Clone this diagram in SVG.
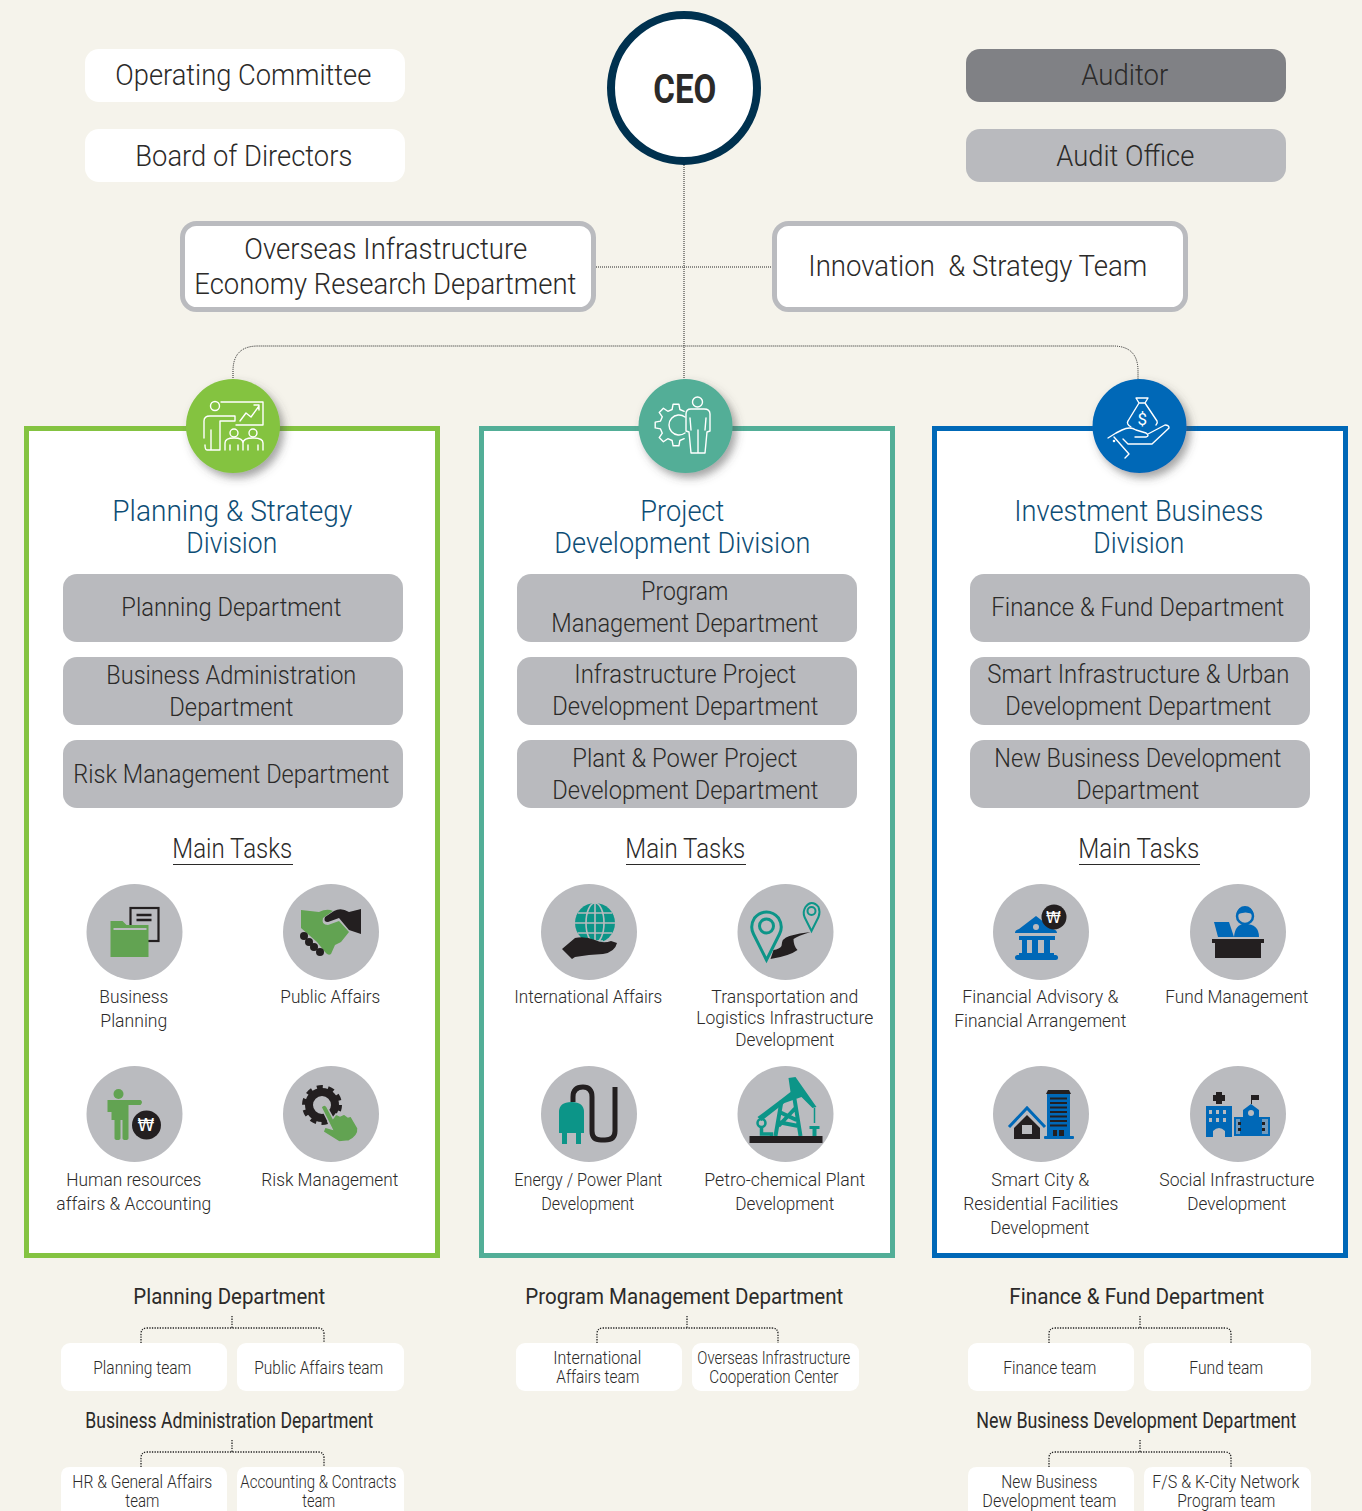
<svg xmlns="http://www.w3.org/2000/svg" width="1362" height="1511" viewBox="0 0 1362 1511">
<style>
text{font-family:Roboto,"Liberation Sans",sans-serif;font-weight:300;fill:#2b2a29;transform:translate(-.7px,0)}
.t30{font-size:30px}.t26{font-size:26px}.t28{font-size:28px}.t19{font-size:19px}.t22{font-size:22px;font-weight:400}.t18{font-size:18px}
.title{font-size:30px;fill:#0d4d75}
.w{fill:#fff}.dept{fill:#b9babe}
.outl{fill:#fff;stroke:#babbbf;stroke-width:5}
.conn{fill:none;stroke:#222;stroke-width:1;stroke-dasharray:1 1}
.tree{fill:none;stroke:#222;stroke-width:1.300;stroke-dasharray:1.300 1.300}
.frame{fill:#fff;stroke-width:5}
.disc{fill:#babbbf}
.ic{fill:none;stroke:#fff;stroke-width:1.400;stroke-linejoin:round;stroke-linecap:round}
.g{fill:#62a352}.k{fill:#231f20}.tl{fill:#0c9588}.b{fill:#0068b7}
.ul{stroke:#2b2a29;stroke-width:1}
.won{font-family:"DejaVu Sans",sans-serif;font-weight:400;font-size:17px;fill:#fff}
</style>
<defs><filter id="sh" x="-30%" y="-30%" width="170%" height="170%"><feDropShadow dx="4" dy="5" stdDeviation="4" flood-color="#4a4a4a" flood-opacity=".5"/></filter></defs>
<rect width="1362" height="1511" fill="#f5f3eb"/>

<g id="connectors">
<path class="conn" d="M684 165V380M596 267H773M233 380V371Q233 346 258 346H1113Q1138 346 1138 371V380"/>
<path class="tree" d="M232 1316V1328M141 1343V1334Q141 1328 147 1328H318Q324 1328 324 1334V1343"/>
<path class="tree" d="M232 1440V1452M141 1467V1458Q141 1452 147 1452H318Q324 1452 324 1458V1467"/>
<path class="tree" d="M687 1316V1328M597 1343V1334Q597 1328 603 1328H772Q778 1328 778 1334V1343"/>
<path class="tree" d="M1140 1316V1328M1049 1343V1334Q1049 1328 1055 1328H1225Q1231 1328 1231 1334V1343"/>
<path class="tree" d="M1140 1440V1452M1049 1467V1458Q1049 1452 1055 1452H1225Q1231 1452 1231 1458V1467"/>
</g>

<g id="ceo"><circle cx="684" cy="88" r="73" fill="#fff" stroke="#00314f" stroke-width="8"/><text x="654" y="103" style="font-weight:700;font-size:40px" textLength="63" lengthAdjust="spacingAndGlyphs">CEO</text></g>
<g id="operating-committee"><rect class="w" x="85" y="49" width="320" height="53" rx="14"/><text class="t30" x="116" y="85" textLength="256" lengthAdjust="spacingAndGlyphs">Operating Committee</text></g>
<g id="board"><rect class="w" x="85" y="129" width="320" height="53" rx="14"/><text class="t30" x="136" y="166" textLength="217" lengthAdjust="spacingAndGlyphs">Board of Directors</text></g>
<g id="auditor"><rect x="966" y="49" width="320" height="53" rx="14" fill="#808185"/><text class="t30" x="1082" y="85" textLength="87" lengthAdjust="spacingAndGlyphs">Auditor</text></g>
<g id="audit-office"><rect class="dept" x="966" y="129" width="320" height="53" rx="14"/><text class="t30" x="1057" y="166" textLength="138" lengthAdjust="spacingAndGlyphs">Audit Office</text></g>
<g id="overseas"><rect class="outl" x="182.500" y="223.500" width="411" height="86" rx="14"/><text class="t30" x="245" y="259" textLength="283" lengthAdjust="spacingAndGlyphs">Overseas Infrastructure</text><text class="t30" x="195" y="294" textLength="382" lengthAdjust="spacingAndGlyphs">Economy Research Department</text></g>
<g id="innovation"><rect class="outl" x="774.500" y="223.500" width="411" height="86" rx="14"/><text class="t30" x="809" y="276" textLength="339" lengthAdjust="spacingAndGlyphs" xml:space="preserve">Innovation  &amp; Strategy Team</text></g>

<g id="planning-division">
<rect class="frame" stroke="#84c341" x="26.500" y="428.500" width="411" height="827"/>
<circle cx="233" cy="426" r="47" fill="#84c341" filter="url(#sh)"/>
<g class="ic"><path d="M221 402H263V425H236"/><circle cx="215" cy="406" r="4.500"/><path d="M204 438V421Q204 416 210 416H235V421H220V450H211V430M211 450H207Q205 450 205 445M240 421L246 413L251 417L259 406M254 405H259V410"/><circle cx="234" cy="433" r="4"/><circle cx="253" cy="433" r="4"/><path d="M225 450V443Q225 438 234 438Q243 438 243 443V450M243 443Q243 438 253 438Q263 438 263 443V450M230 450V445M238 450V445M248 450V445M258 450V445"/></g>
<text class="title" x="113" y="521" textLength="240" lengthAdjust="spacingAndGlyphs">Planning &amp; Strategy</text>
<text class="title" x="187" y="553" textLength="91" lengthAdjust="spacingAndGlyphs">Division</text>
</g>
<g id="dept-planning"><rect class="dept" x="63" y="574" width="340" height="68" rx="14"/><text class="t26" x="122" y="616" textLength="220" lengthAdjust="spacingAndGlyphs">Planning Department</text></g>
<g id="dept-bizadmin"><rect class="dept" x="63" y="657" width="340" height="68" rx="14"/><text class="t26" x="107" y="684" textLength="250" lengthAdjust="spacingAndGlyphs">Business Administration</text><text class="t26" x="170" y="716" textLength="124" lengthAdjust="spacingAndGlyphs">Department</text></g>
<g id="dept-risk"><rect class="dept" x="63" y="740" width="340" height="68" rx="14"/><text class="t26" x="74" y="783" textLength="316" lengthAdjust="spacingAndGlyphs">Risk Management Department</text></g>
<g id="tasks-planning"><text class="t28" x="173" y="858" textLength="120" lengthAdjust="spacingAndGlyphs">Main Tasks</text><line class="ul" x1="173" x2="293" y1="864.500" y2="864.500"/></g>

<g id="task-business-planning" transform="translate(134.500 932)"><circle class="disc" r="48"/><rect x="-4" y="-24" width="28" height="33" fill="none" stroke="#231f20" stroke-width="2.200"/><path d="M2 -17H17M2 -12H17" stroke="#231f20" stroke-width="2.400"/><path class="g" d="M-24 -11H-12L-8 -7H14V25H-24Z"/><path d="M-21 -3H12" stroke="#babbbf" stroke-width="2"/></g>
<text class="t19" x="100" y="1003" textLength="69" lengthAdjust="spacingAndGlyphs">Business</text><text class="t19" x="101" y="1027" textLength="67" lengthAdjust="spacingAndGlyphs">Planning</text>
<g id="task-public-affairs" transform="translate(331 932)"><circle class="disc" r="48"/><path class="g" d="M-30 -22L-12 -20Q-4 -24 2 -21L-8 -14Q-10 -7 -3 -7L8 -11L18 0L14 5L10 10L4 13L0 22Q-3 24 -6 20L-14 10L-30 -4Z"/><path class="k" d="M30 -23V2L18 -2L8 -14L-3 -10Q-8 -10 -6 -15L3 -21Q10 -25 18 -20Z"/><g class="k"><circle cx="-27" cy="4" r="4"/><circle cx="-22" cy="10" r="4"/><circle cx="-17" cy="15" r="4"/><circle cx="-11" cy="20" r="4"/></g></g>
<text class="t19" x="281" y="1003" textLength="100" lengthAdjust="spacingAndGlyphs">Public Affairs</text>
<g id="task-hr" transform="translate(134.500 1114)"><circle class="disc" r="48"/><circle class="g" cx="-16" cy="-20" r="5"/><path class="g" d="M-27 -14H-8L6 -14Q9 -12 6 -9H-6V24Q-6 26 -9 26T-12 24V6H-14V24Q-14 26 -17 26T-20 24V6H-23V-2H-27Z"/><circle class="k" cx="12" cy="11" r="14.500"/><text class="won" x="12" y="17" text-anchor="middle">₩</text></g>
<text class="t19" x="67" y="1186" textLength="135" lengthAdjust="spacingAndGlyphs">Human resources</text><text class="t19" x="57" y="1210" textLength="155" lengthAdjust="spacingAndGlyphs">affairs &amp; Accounting</text>
<g id="task-risk" transform="translate(331 1114)"><circle class="disc" r="48"/><circle cx="-9" cy="-9" r="13" fill="none" stroke="#231f20" stroke-width="8"/><circle cx="-9" cy="-9" r="18" fill="none" stroke="#231f20" stroke-width="4" stroke-dasharray="6 5.300"/><path class="g" stroke="#babbbf" stroke-width="1.500" d="M-10 -7Q-6 -11 -4 -7L2 4L5 0L9 2L13 0L17 3L20 2L27 14Q28 22 18 27L8 28L-8 18L-6 13L1 15Z"/></g>
<text class="t19" x="262" y="1186" textLength="137" lengthAdjust="spacingAndGlyphs">Risk Management</text>

<g id="project-division">
<rect class="frame" stroke="#52ae97" x="481.500" y="428.500" width="411" height="827"/>
<circle cx="685.500" cy="426" r="47" fill="#52ae97" filter="url(#sh)"/>
<g class="ic"><path d="M684.200 411.300L679.900 409.500 678.900 404.200 673.100 404.200 672.100 409.500 667.800 411.300 663.400 408.200 659.200 412.400 662.300 416.800 660.500 421.100 655.200 422.100 655.200 427.900 660.500 428.900 662.300 433.200 659.200 437.600 663.400 441.800 667.800 438.700 672.100 440.500 673.100 445.800 678.900 445.800 679.900 440.500 684.200 438.700"/><path d="M685 417A10 10 0 1 0 685 433"/><circle cx="697.500" cy="402" r="5"/><path style="fill:#52ae97" d="M691 409H704Q710 409 710 414V431L707 432L705 453H691L689 432L686 431V414Q686 409 691 409ZM698 430V453M690 418L691 430M706 418L705 430"/></g>
<text class="title" x="641" y="521" textLength="84" lengthAdjust="spacingAndGlyphs">Project</text>
<text class="title" x="555" y="553" textLength="256" lengthAdjust="spacingAndGlyphs">Development Division</text>
</g>
<g id="dept-program"><rect class="dept" x="517" y="574" width="340" height="68" rx="14"/><text class="t26" x="642" y="600" textLength="87" lengthAdjust="spacingAndGlyphs">Program</text><text class="t26" x="552" y="632" textLength="267" lengthAdjust="spacingAndGlyphs">Management Department</text></g>
<g id="dept-infra"><rect class="dept" x="517" y="657" width="340" height="68" rx="14"/><text class="t26" x="575" y="683" textLength="222" lengthAdjust="spacingAndGlyphs">Infrastructure Project</text><text class="t26" x="553" y="715" textLength="266" lengthAdjust="spacingAndGlyphs">Development Department</text></g>
<g id="dept-plant"><rect class="dept" x="517" y="740" width="340" height="68" rx="14"/><text class="t26" x="573" y="767" textLength="225" lengthAdjust="spacingAndGlyphs">Plant &amp; Power Project</text><text class="t26" x="553" y="799" textLength="266" lengthAdjust="spacingAndGlyphs">Development Department</text></g>
<g id="tasks-project"><text class="t28" x="626" y="858" textLength="120" lengthAdjust="spacingAndGlyphs">Main Tasks</text><line class="ul" x1="626" x2="746" y1="864.500" y2="864.500"/></g>

<g id="task-international" transform="translate(589 932)"><circle class="disc" r="48"/><circle class="tl" cx="6" cy="-9" r="20"/><g fill="none" stroke="#babbbf" stroke-width="1.600"><ellipse cx="6" cy="-9" rx="9" ry="20"/><path d="M6 -29V11M-14 -9H26M-11 -19H23M-11 1H23M-16 9H14"/></g><path class="k" d="M-27 17L-14 6Q-4 4 6 8Q14 12 22 9L28 11Q26 20 14 22L0 23L-14 25L-17 27Z"/></g>
<text class="t19" x="515" y="1003" textLength="148" lengthAdjust="spacingAndGlyphs">International Affairs</text>
<g id="task-transport" transform="translate(785.500 932)"><circle class="disc" r="48"/><path d="M-19 28L-32 2Q-36 -6 -31 -14Q-26 -20 -19 -20Q-12 -20 -7 -14Q-2 -6 -6 2Z" fill="none" stroke="#0c9588" stroke-width="3"/><circle cx="-19" cy="-6" r="7" fill="none" stroke="#0c9588" stroke-width="3"/><path d="M26 -1L19 -15Q17 -20 20 -25Q23 -29 26 -29Q30 -29 33 -25Q35 -20 33 -15Z" fill="none" stroke="#0c9588" stroke-width="2"/><circle cx="26" cy="-21" r="4" fill="none" stroke="#0c9588" stroke-width="2"/><path class="k" d="M-15 27L-12 18Q-6 17 -4 14Q-4 6 4 4Q14 1 25 0Q12 4 8 7Q8 14 12 18Q4 24 -15 27Z"/></g>
<text class="t19" x="712" y="1003" textLength="147" lengthAdjust="spacingAndGlyphs">Transportation and</text><text class="t19" x="697" y="1024" textLength="177" lengthAdjust="spacingAndGlyphs">Logistics Infrastructure</text><text class="t19" x="736" y="1046" textLength="99" lengthAdjust="spacingAndGlyphs">Development</text>
<g id="task-energy" transform="translate(589 1114)"><circle class="disc" r="48"/><path d="M-16 -12V-17Q-16 -27 -6 -27Q3 -27 3 -17V17Q3 26 12 26H16Q26 26 26 17V-27" fill="none" stroke="#231f20" stroke-width="5"/><path class="tl" d="M-30 19V-2Q-30 -12 -17.500 -12Q-5 -12 -5 -2V19H-8V30H-13V19H-22V30H-27V19Z"/></g>
<text class="t19" x="515" y="1186" textLength="148" lengthAdjust="spacingAndGlyphs">Energy / Power Plant</text><text class="t19" x="542" y="1210" textLength="93" lengthAdjust="spacingAndGlyphs">Development</text>
<g id="task-petro" transform="translate(785.500 1114)"><circle class="disc" r="48"/><path class="tl" d="M3 -36L10 -37L31 -7L27 -6L16 -17L-1 -11L-24 7L-28 3L-4 -15L5 -22Z"/><path d="M-4 -13L-10 22M9 -15L15 22M-8 8L13 12M-6 -2L11 6M-7 12L10 -6" fill="none" stroke="#0c9588" stroke-width="4"/><circle cx="-24" cy="9" r="4" fill="none" stroke="#0c9588" stroke-width="2.500"/><path d="M-24 13V20H-14V22" fill="none" stroke="#0c9588" stroke-width="3.500"/><path d="M29 -6V9" stroke="#0c9588" stroke-width="1.500"/><path class="tl" d="M24 12H34V15H31V22H27V15H24Z"/><rect class="k" x="-36" y="22" width="73" height="7"/></g>
<text class="t19" x="705" y="1186" textLength="161" lengthAdjust="spacingAndGlyphs">Petro-chemical Plant</text><text class="t19" x="736" y="1210" textLength="99" lengthAdjust="spacingAndGlyphs">Development</text>

<g id="investment-division">
<rect class="frame" stroke="#0068b7" x="934.500" y="428.500" width="411" height="827"/>
<circle cx="1139.500" cy="426" r="47" fill="#0068b7" filter="url(#sh)"/>
<g class="ic"><path d="M1136 398H1148L1145 403H1139ZM1139 403L1128 421Q1126 424 1131 427M1145 403L1157 421Q1158 423 1156 425"/><path d="M1108 438L1116 433L1122 430Q1130 426 1136 430L1146 433Q1150 436 1146 437H1135M1148 434L1165 425Q1169 425 1169 428L1152 444H1128L1123 439M1114 437L1129 454L1125 458"/><circle cx="1114" cy="441" r=".6"/></g>
<text x="1143" y="425" text-anchor="middle" style="font-size:17px;font-weight:400;fill:#fff">$</text>
<text class="title" x="1015" y="521" textLength="249" lengthAdjust="spacingAndGlyphs">Investment Business</text>
<text class="title" x="1094" y="553" textLength="91" lengthAdjust="spacingAndGlyphs">Division</text>
</g>
<g id="dept-finance"><rect class="dept" x="970" y="574" width="340" height="68" rx="14"/><text class="t26" x="992" y="616" textLength="293" lengthAdjust="spacingAndGlyphs">Finance &amp; Fund Department</text></g>
<g id="dept-smart"><rect class="dept" x="970" y="657" width="340" height="68" rx="14"/><text class="t26" x="988" y="683" textLength="302" lengthAdjust="spacingAndGlyphs">Smart Infrastructure &amp; Urban</text><text class="t26" x="1006" y="715" textLength="266" lengthAdjust="spacingAndGlyphs">Development Department</text></g>
<g id="dept-newbiz"><rect class="dept" x="970" y="740" width="340" height="68" rx="14"/><text class="t26" x="995" y="767" textLength="287" lengthAdjust="spacingAndGlyphs">New Business Development</text><text class="t26" x="1077" y="799" textLength="123" lengthAdjust="spacingAndGlyphs">Department</text></g>
<g id="tasks-investment"><text class="t28" x="1079" y="858" textLength="121" lengthAdjust="spacingAndGlyphs">Main Tasks</text><line class="ul" x1="1079" x2="1200" y1="864.500" y2="864.500"/></g>

<g id="task-financial" transform="translate(1041 932)"><circle class="disc" r="48"/><path class="b" d="M-26 1Q-26 -2 -22 -3L-5 -16L12 -3Q16 -2 16 1ZM-22 4H14V8H-22ZM-19 8H-14V21H-19ZM-9 8H-3V21H-9ZM3 8H9V21H3ZM-22 21H13V23H-22Z"/><rect class="b" x="-26" y="23" width="43" height="5" rx="2.500"/><circle class="disc" cx="-5" cy="-5" r="3"/><circle class="k" cx="13" cy="-15" r="12.500"/><text class="won" x="13" y="-9" text-anchor="middle" style="font-size:15px">₩</text></g>
<text class="t19" x="963" y="1003" textLength="156" lengthAdjust="spacingAndGlyphs">Financial Advisory &amp;</text><text class="t19" x="955" y="1027" textLength="172" lengthAdjust="spacingAndGlyphs">Financial Arrangement</text>
<g id="task-fund" transform="translate(1238 932)"><circle class="disc" r="48"/><rect class="k" x="-26" y="7" width="52" height="4"/><rect class="k" x="-23" y="11" width="46" height="15"/><path class="b" d="M-4 5Q-3 -8 7 -8Q21 -8 21 5Z"/><circle cx="7" cy="-16" r="8" fill="#babbbf" stroke="#0068b7" stroke-width="2.500"/><path class="b" d="M-2 -17Q0 -26 7 -26Q14 -26 16 -17Q8 -22 -2 -17Z"/><path class="b" d="M-24 -10H-9L-4 5H-20Z"/></g>
<text class="t19" x="1166" y="1003" textLength="143" lengthAdjust="spacingAndGlyphs">Fund Management</text>
<g id="task-smart" transform="translate(1041 1114)"><circle class="disc" r="48"/><path class="k" d="M-27 14L-14 1L-1 14V25H-27Z"/><rect class="disc" x="-19" y="11" width="10" height="9"/><path d="M-32 13L-14 -6L4 13" fill="none" stroke="#0068b7" stroke-width="3"/><rect class="b" x="6" y="-20" width="23" height="43"/><path class="k" d="M7 -24H28L30 -20H5Z"/><rect class="b" x="3" y="22" width="30" height="3" rx="1"/><path d="M9 -15.500H26M9 -11H26M9 -6.500H26M9 -2H26M9 2.500H26M9 7H26M9 11.500H26" stroke="#231f20" stroke-width="1.800"/><rect class="k" x="12" y="16" width="4" height="6"/><rect class="k" x="18" y="16" width="5" height="6"/></g>
<text class="t19" x="992" y="1186" textLength="98" lengthAdjust="spacingAndGlyphs">Smart City &amp;</text><text class="t19" x="964" y="1210" textLength="155" lengthAdjust="spacingAndGlyphs">Residential Facilities</text><text class="t19" x="991" y="1234" textLength="99" lengthAdjust="spacingAndGlyphs">Development</text>
<g id="task-social" transform="translate(1238 1114)"><circle class="disc" r="48"/><path class="k" d="M-22 -22H-16V-19H-13V-13H-16V-10H-22V-13H-25V-19H-22Z"/><path class="b" d="M-32 -8H-6V23H-13V17Q-19 11 -25 17V23H-32Z"/><g fill="#babbbf"><rect x="-29" y="-4" width="3" height="4"/><rect x="-22" y="-4" width="3" height="4"/><rect x="-15" y="-4" width="3" height="4"/><rect x="-29" y="4" width="3" height="4"/><rect x="-22" y="4" width="3" height="4"/><rect x="-15" y="4" width="3" height="4"/></g><path class="k" d="M13 -19H21V-14H14V-10H13Z"/><path class="b" d="M-4 3H5V-4L13 -10L21 -4V3H32V22H-4Z"/><circle class="disc" cx="13" cy="-1" r="3"/><path d="M-2 5H2V20H-2ZM24 5H30V20H24Z" fill="#babbbf" opacity=".6"/><g class="k"><rect x="0" y="8" width="3" height="3"/><rect x="0" y="14" width="3" height="3"/><rect x="24" y="8" width="3" height="3"/><rect x="24" y="14" width="3" height="3"/></g></g>
<text class="t19" x="1160" y="1186" textLength="155" lengthAdjust="spacingAndGlyphs">Social Infrastructure</text><text class="t19" x="1188" y="1210" textLength="99" lengthAdjust="spacingAndGlyphs">Development</text>

<g id="heading-planning"><text class="t22" x="134" y="1304" textLength="192" lengthAdjust="spacingAndGlyphs">Planning Department</text></g>
<g id="heading-bizadmin"><text class="t22" x="86" y="1428" textLength="288" lengthAdjust="spacingAndGlyphs">Business Administration Department</text></g>
<g id="heading-program"><text class="t22" x="526" y="1304" textLength="318" lengthAdjust="spacingAndGlyphs">Program Management Department</text></g>
<g id="heading-finance"><text class="t22" x="1010" y="1304" textLength="255" lengthAdjust="spacingAndGlyphs">Finance &amp; Fund Department</text></g>
<g id="heading-newbiz"><text class="t22" x="977" y="1428" textLength="320" lengthAdjust="spacingAndGlyphs">New Business Development Department</text></g>

<g id="team-planning"><rect class="w" x="61" y="1343" width="166" height="48" rx="9"/><text class="t18" x="94" y="1374" textLength="98" lengthAdjust="spacingAndGlyphs">Planning team</text></g>
<g id="team-public"><rect class="w" x="237" y="1343" width="167" height="48" rx="9"/><text class="t18" x="255" y="1374" textLength="129" lengthAdjust="spacingAndGlyphs">Public Affairs team</text></g>
<g id="team-hr"><path class="w" d="M61 1511V1476Q61 1467 70 1467H218Q227 1467 227 1476V1511Z"/><text class="t18" x="73" y="1488" textLength="140" lengthAdjust="spacingAndGlyphs">HR &amp; General Affairs</text><text class="t18" x="126" y="1507" textLength="34" lengthAdjust="spacingAndGlyphs">team</text></g>
<g id="team-accounting"><path class="w" d="M237 1511V1476Q237 1467 246 1467H395Q404 1467 404 1476V1511Z"/><text class="t18" x="241" y="1488" textLength="156" lengthAdjust="spacingAndGlyphs">Accounting &amp; Contracts</text><text class="t18" x="303" y="1507" textLength="33" lengthAdjust="spacingAndGlyphs">team</text></g>
<g id="team-intl"><rect class="w" x="516" y="1343" width="166" height="48" rx="9"/><text class="t18" x="554" y="1364" textLength="88" lengthAdjust="spacingAndGlyphs">International</text><text class="t18" x="557" y="1383" textLength="83" lengthAdjust="spacingAndGlyphs">Affairs team</text></g>
<g id="team-overseas"><rect class="w" x="692" y="1343" width="167" height="48" rx="9"/><text class="t18" x="698" y="1364" textLength="153" lengthAdjust="spacingAndGlyphs">Overseas Infrastructure</text><text class="t18" x="710" y="1383" textLength="129" lengthAdjust="spacingAndGlyphs">Cooperation Center</text></g>
<g id="team-finance"><rect class="w" x="968" y="1343" width="166" height="48" rx="9"/><text class="t18" x="1004" y="1374" textLength="93" lengthAdjust="spacingAndGlyphs">Finance team</text></g>
<g id="team-fund"><rect class="w" x="1144" y="1343" width="167" height="48" rx="9"/><text class="t18" x="1190" y="1374" textLength="74" lengthAdjust="spacingAndGlyphs">Fund team</text></g>
<g id="team-newbiz"><path class="w" d="M968 1511V1476Q968 1467 977 1467H1125Q1134 1467 1134 1476V1511Z"/><text class="t18" x="1002" y="1488" textLength="96" lengthAdjust="spacingAndGlyphs">New Business</text><text class="t18" x="983" y="1507" textLength="134" lengthAdjust="spacingAndGlyphs">Development team</text></g>
<g id="team-fs"><path class="w" d="M1144 1511V1476Q1144 1467 1153 1467H1302Q1311 1467 1311 1476V1511Z"/><text class="t18" x="1153" y="1488" textLength="147" lengthAdjust="spacingAndGlyphs">F/S &amp; K-City Network</text><text class="t18" x="1178" y="1507" textLength="98" lengthAdjust="spacingAndGlyphs">Program team</text></g>
</svg>
